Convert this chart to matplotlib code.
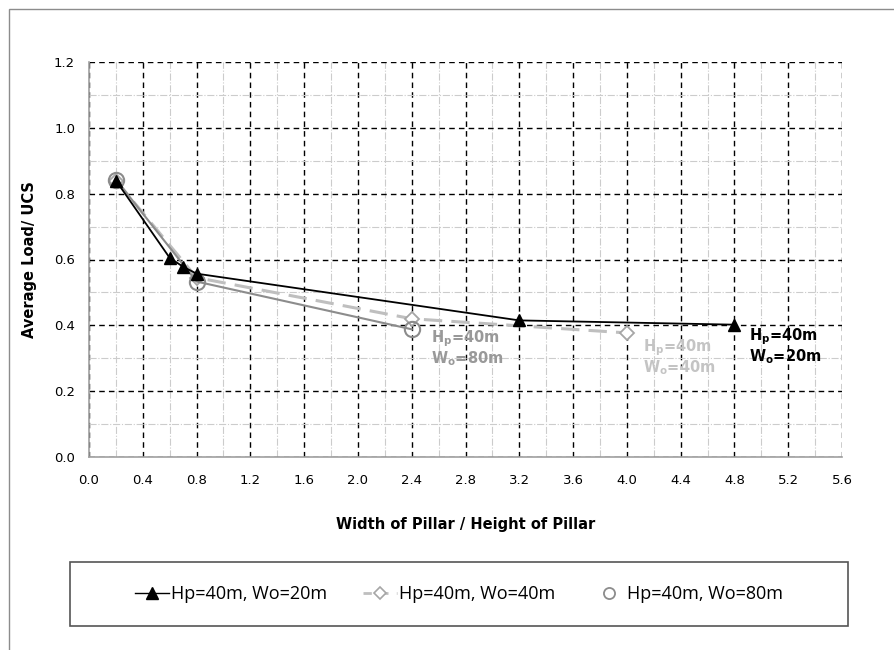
import matplotlib
matplotlib.use('Agg')
import matplotlib.pyplot as plt
from matplotlib.patches import Rectangle
from matplotlib.lines import Line2D
from matplotlib.ticker import MultipleLocator, FormatStrFormatter

plt.rcParams['mathtext.default'] = 'regular'

# data
x_20 = [0.2, 0.6, 0.7, 0.8, 3.2, 4.8]
y_20 = [0.84, 0.605, 0.578, 0.557, 0.415, 0.402]

x_40 = [0.2, 0.8, 2.4, 4.0]
y_40 = [0.84, 0.545, 0.42, 0.377]

x_80 = [0.2, 0.8, 2.4]
y_80 = [0.843, 0.533, 0.388]

labels = ['Hp=40m, Wo=20m', 'Hp=40m, Wo=40m', 'Hp=40m, Wo=80m']

fig = plt.figure(figsize=(8.94, 6.5), dpi=100)
ax = fig.add_axes([89/894, 1-457/650, (842-89)/894, (457-62)/650])

# outer frame of the chart area (runs off the right / bottom)
fig.patches.append(Rectangle((9/894, -0.1), 1.2, 1-9/650+0.1, transform=fig.transFigure,
                             fill=False, edgecolor='#8c8c8c', lw=1.0))

l1, = ax.plot(x_20, y_20, '-^', color='black', lw=1.3, ms=9, mfc='black', mec='black',
              label=labels[0], zorder=5)
l2, = ax.plot(x_40, y_40, '--D', color='#bfbfbf', lw=2.2, ms=7, mfc='white', mec='#a6a6a6',
              mew=1.3, dashes=(6, 3), label=labels[1], zorder=3)
l3, = ax.plot(x_80, y_80, '-o', color='#8c8c8c', lw=1.5, ms=11, mfc='none', mec='#8c8c8c',
              mew=1.5, label=labels[2], zorder=4)

ax.set_xlim(0, 5.6)
ax.set_ylim(0, 1.2)
ax.xaxis.set_major_locator(MultipleLocator(0.4))
ax.xaxis.set_minor_locator(MultipleLocator(0.2))
ax.yaxis.set_major_locator(MultipleLocator(0.2))
ax.yaxis.set_minor_locator(MultipleLocator(0.1))
ax.xaxis.set_major_formatter(FormatStrFormatter('%.1f'))
ax.yaxis.set_major_formatter(FormatStrFormatter('%.1f'))

ax.grid(which='major', color='black', linestyle=(0, (4, 3)), lw=1.0)
ax.grid(which='minor', color='#cccccc', linestyle='-.', lw=0.8)
ax.set_axisbelow(True)

for s in ['top', 'right']:
    ax.spines[s].set_visible(False)
for s in ['left', 'bottom']:
    ax.spines[s].set_color('#a0a0a0')
    ax.spines[s].set_linewidth(1.2)

ax.tick_params(which='both', length=0)
ax.tick_params(axis='y', pad=10, labelsize=9.5)
ax.tick_params(axis='x', pad=12, labelsize=9.5)

ax.set_ylabel('Average Load/ UCS', fontsize=10.5, fontweight='bold', labelpad=12)
ax.set_xlabel('Width of Pillar / Height of Pillar', fontsize=10.5, fontweight='bold', labelpad=22)

ax.text(2.54, 0.33, 'H$_p$=40m\nW$_o$=80m', color='#999999', fontsize=10.5,
        fontweight='bold', va='center', ha='left', linespacing=1.0)
ax.text(4.12, 0.303, 'H$_p$=40m\nW$_o$=40m', color='#c4c4c4', fontsize=10.5,
        fontweight='bold', va='center', ha='left', linespacing=1.0)
ax.text(4.91, 0.336, 'H$_p$=40m\nW$_o$=20m', color='black', fontsize=10.5,
        fontweight='bold', va='center', ha='left', linespacing=1.0)

# legend handles like the Excel legend (circle series shows the marker only)
h1 = Line2D([], [], color='black', lw=1.0, marker='^', ms=9, mfc='black', mec='black')
h2 = Line2D([], [], color='#bfbfbf', lw=2.0, dashes=(3, 3), marker='D', ms=6.5,
            mfc='white', mec='#a6a6a6', mew=1.2)
h3 = Line2D([], [], linestyle='none', marker='o', ms=8, mfc='none', mec='#8c8c8c', mew=1.3)

leg = fig.legend(handles=[h1, h2, h3], labels=labels, loc='center', ncol=3,
                 bbox_to_anchor=(70/894, 1-626/650, (848-70)/894, 64/650),
                 fancybox=False, edgecolor='#555555', framealpha=1,
                 prop={'family': 'Open Sans', 'size': 13}, handlelength=1.9,
                 handletextpad=0.1, columnspacing=2.0, borderaxespad=0)
leg.get_frame().set_linewidth(0)
fig.patches.append(Rectangle((70/894, 1-626/650), (848-70)/894, 64/650,
                             transform=fig.transFigure, fill=False,
                             edgecolor='#555555', lw=1.2))

fig.savefig('out.png', dpi=100)
